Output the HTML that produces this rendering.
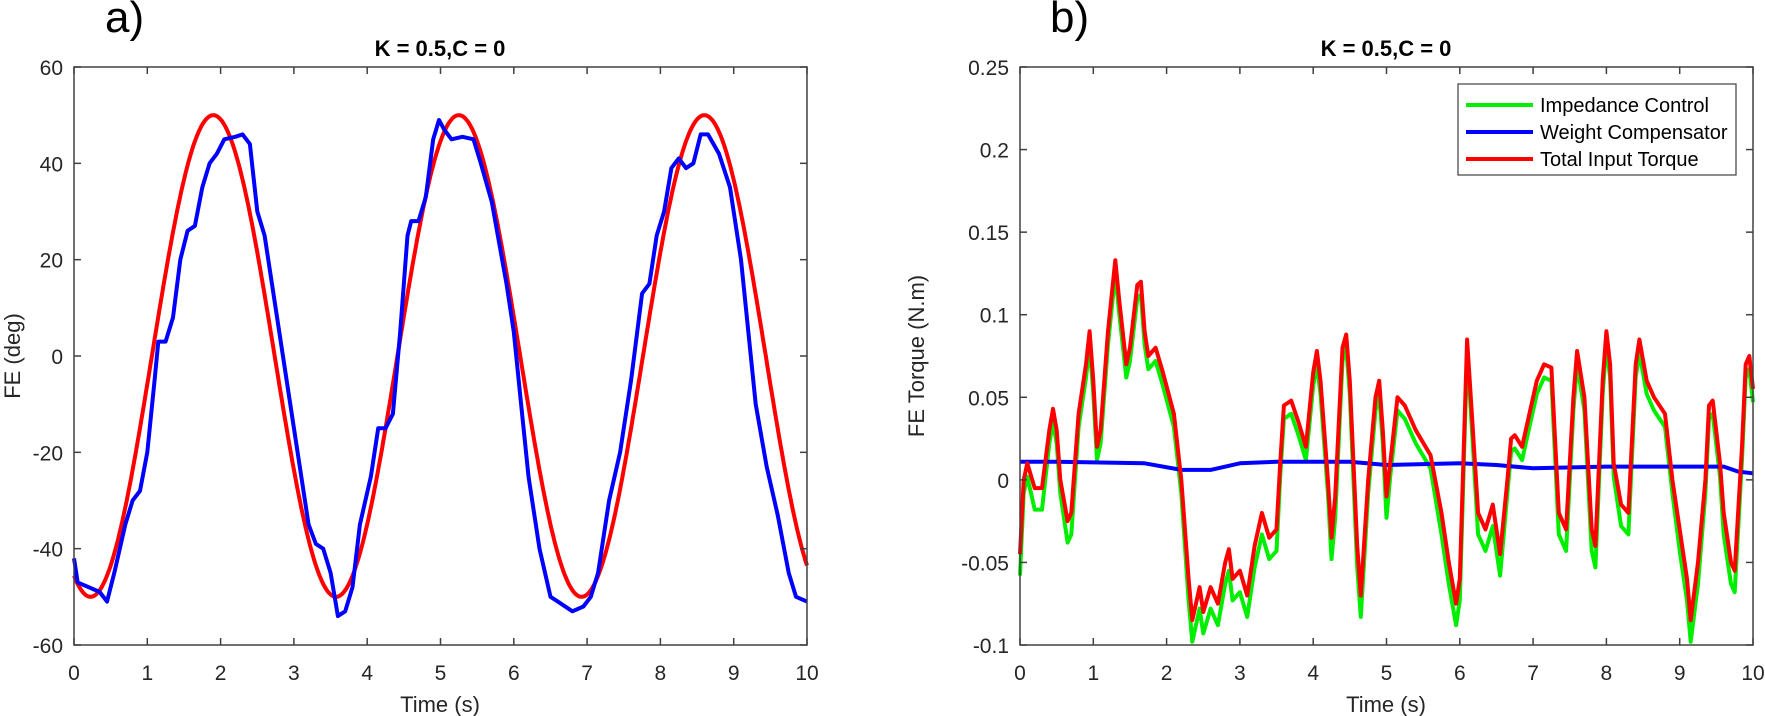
<!DOCTYPE html>
<html><head><meta charset="utf-8"><style>
body{margin:0;background:#fff;}
svg{display:block;font-family:"Liberation Sans",Arial,sans-serif;}
</style></head><body>
<svg id="s" width="1765" height="716" viewBox="0 0 1765 716" xmlns="http://www.w3.org/2000/svg">
<rect width="1765" height="716" fill="#fff"/>
<text x="105" y="32" font-size="44" fill="#000">a)</text>
<text x="1050" y="32" font-size="44" fill="#000">b)</text>
<text x="440" y="56" font-size="22" font-weight="bold" text-anchor="middle" fill="#000">K = 0.5,C = 0</text>
<text x="1386" y="56" font-size="22" font-weight="bold" text-anchor="middle" fill="#000">K = 0.5,C = 0</text>
<g id="g"></g>
<text x="440" y="712" font-size="22" text-anchor="middle" fill="#262626">Time (s)</text>
<text x="1386" y="712" font-size="22" text-anchor="middle" fill="#262626">Time (s)</text>
<text transform="translate(20,356) rotate(-90)" font-size="22" text-anchor="middle" fill="#262626">FE (deg)</text>
<text transform="translate(924,356) rotate(-90)" font-size="22" text-anchor="middle" fill="#262626">FE Torque (N.m)</text>
</svg>
<script>
var g=document.getElementById('g'),h='';
function ax(x0,x1,y0,y1,ymin,ymax,ystep,fmt){
 var fx=function(t){return x0+(x1-x0)*t/10;},fy=function(v){return y1-(y1-y0)*(v-ymin)/(ymax-ymin);};
 return {fx:fx,fy:fy,draw:function(){
  var s='<rect x="'+x0+'" y="'+y0+'" width="'+(x1-x0)+'" height="'+(y1-y0)+'" fill="none" stroke="#404040" stroke-width="1.5"/>';
  for(var i=0;i<=10;i++){var x=fx(i);s+='<line x1="'+x+'" y1="'+y1+'" x2="'+x+'" y2="'+(y1-7)+'" stroke="#404040" stroke-width="1.5"/><line x1="'+x+'" y1="'+y0+'" x2="'+x+'" y2="'+(y0+7)+'" stroke="#404040" stroke-width="1.5"/>';
   s+='<text x="'+x+'" y="'+(y1+35)+'" font-size="21" text-anchor="middle" fill="#262626">'+i+'</text>';}
  var n=Math.round((ymax-ymin)/ystep);
  for(var j=0;j<=n;j++){var v=ymin+j*ystep,y=fy(v);s+='<line x1="'+x0+'" y1="'+y+'" x2="'+(x0+7)+'" y2="'+y+'" stroke="#404040" stroke-width="1.5"/><line x1="'+x1+'" y1="'+y+'" x2="'+(x1-7)+'" y2="'+y+'" stroke="#404040" stroke-width="1.5"/>';
   s+='<text x="'+(x0-11)+'" y="'+(y+8)+'" font-size="21" text-anchor="end" fill="#262626">'+fmt(v)+'</text>';}
  return s;}};
}
function path(a,pts,c,w){return '<polyline fill="none" stroke="'+c+'" stroke-width="'+(w||4)+'" stroke-linejoin="round" points="'+pts.map(function(p){return a.fx(p[0]).toFixed(1)+','+a.fy(p[1]).toFixed(1)}).join(' ')+'"/>';}
var A=ax(74,807,67,645,-60,60,20,function(v){return Math.round(v)+''});
var red=[];for(var t=0;t<=10.001;t+=0.02)red.push([t,50*Math.cos(2*Math.PI*(t-1.9)/3.35)]);
var blue=[[0,-42],[0.05,-47],[0.2,-48],[0.35,-49],[0.45,-51],[0.55,-45],[0.7,-35],[0.8,-30],[0.9,-28],[1.0,-20],[1.1,-5],[1.15,3],[1.25,3],[1.35,8],[1.45,20],[1.55,26],[1.65,27],[1.75,35],[1.85,40],[1.95,42],[2.05,45],[2.2,45.5],[2.3,46],[2.4,44],[2.5,30],[2.6,25],[2.75,10],[2.9,-5],[3.05,-20],[3.2,-35],[3.3,-39],[3.4,-40],[3.5,-45],[3.6,-54],[3.7,-53],[3.8,-48],[3.9,-35],[4.05,-25],[4.15,-15],[4.25,-15],[4.35,-12],[4.45,5],[4.55,25],[4.6,28],[4.7,28],[4.8,33],[4.9,45],[4.98,49],[5.05,47],[5.15,45],[5.3,45.5],[5.45,45],[5.55,40],[5.7,32],[5.9,15],[6.0,5],[6.1,-10],[6.2,-25],[6.35,-40],[6.5,-50],[6.6,-51],[6.8,-53],[6.95,-52],[7.05,-50],[7.15,-45],[7.3,-30],[7.45,-20],[7.6,-5],[7.75,13],[7.85,15],[7.95,25],[8.05,30],[8.15,39],[8.25,41],[8.35,39],[8.45,40],[8.55,46],[8.65,46],[8.8,42],[8.95,35],[9.1,20],[9.3,-10],[9.45,-23],[9.6,-33],[9.75,-45],[9.85,-50],[10,-51]];
h+=path(A,red,'#ff0000')+path(A,blue,'#0000ff')+A.draw();
var B=ax(1020,1753,67,645,-0.1,0.25,0.05,function(v){var r=Math.round(v*100)/100;return r==0?'0':(r+'');});
var R=[[0,-0.045],[0.05,0.0],[0.1,0.01],[0.2,-0.005],[0.3,-0.005],[0.4,0.03],[0.45,0.043],[0.5,0.03],[0.55,0.0],[0.65,-0.025],[0.7,-0.02],[0.8,0.04],[0.9,0.07],[0.95,0.09],[1.0,0.06],[1.05,0.02],[1.1,0.03],[1.2,0.09],[1.3,0.133],[1.35,0.11],[1.45,0.07],[1.5,0.08],[1.6,0.118],[1.65,0.12],[1.7,0.09],[1.75,0.075],[1.85,0.08],[1.95,0.065],[2.1,0.04],[2.2,0.0],[2.3,-0.06],[2.35,-0.085],[2.45,-0.065],[2.5,-0.08],[2.6,-0.065],[2.7,-0.075],[2.8,-0.05],[2.85,-0.042],[2.9,-0.06],[3.0,-0.055],[3.1,-0.07],[3.2,-0.04],[3.3,-0.02],[3.4,-0.035],[3.5,-0.03],[3.55,0.01],[3.6,0.045],[3.7,0.048],[3.8,0.035],[3.9,0.02],[4.0,0.065],[4.05,0.078],[4.1,0.06],[4.2,0.0],[4.25,-0.035],[4.3,-0.01],[4.4,0.08],[4.45,0.088],[4.5,0.06],[4.6,-0.04],[4.65,-0.07],[4.75,0.0],[4.85,0.05],[4.9,0.06],[4.95,0.03],[5.0,-0.01],[5.05,0.01],[5.15,0.05],[5.25,0.045],[5.4,0.03],[5.6,0.015],[5.75,-0.02],[5.85,-0.05],[5.95,-0.075],[6.0,-0.06],[6.1,0.085],[6.15,0.05],[6.25,-0.02],[6.35,-0.03],[6.45,-0.015],[6.55,-0.045],[6.65,0.0],[6.7,0.025],[6.75,0.027],[6.85,0.02],[6.95,0.04],[7.05,0.06],[7.15,0.07],[7.25,0.068],[7.35,-0.02],[7.45,-0.03],[7.55,0.05],[7.6,0.078],[7.7,0.05],[7.8,-0.03],[7.85,-0.04],[7.95,0.06],[8.0,0.09],[8.05,0.07],[8.1,0.01],[8.2,-0.015],[8.3,-0.02],[8.4,0.07],[8.45,0.085],[8.55,0.06],[8.65,0.05],[8.8,0.04],[8.9,0.0],[9.0,-0.03],[9.1,-0.06],[9.15,-0.085],[9.25,-0.05],[9.35,0.0],[9.4,0.045],[9.45,0.048],[9.55,0.01],[9.6,-0.02],[9.7,-0.05],[9.75,-0.055],[9.85,0.02],[9.9,0.07],[9.95,0.075],[10,0.055]];
var BL=[[0,0.011],[0.5,0.011],[1.7,0.01],[2.2,0.006],[2.6,0.006],[3.0,0.01],[3.5,0.011],[4.5,0.011],[5,0.009],[6,0.01],[6.5,0.009],[7,0.007],[8,0.008],[9,0.008],[9.6,0.008],[9.8,0.005],[10,0.004]];
var G=R.map(function(p){return [p[0],p[1]-0.008-(p[1]<0?0.005:0)]});
h+=path(B,G,'#00ee00')+path(B,BL,'#0000ff')+path(B,R,'#ff0000')+B.draw();
h+='<rect x="1458" y="84" width="278" height="91" fill="#fff" stroke="#404040" stroke-width="1.2"/>';
var L=[['#00ee00','Impedance Control',105],['#0000ff','Weight Compensator',132],['#ff0000','Total Input Torque',159]];
L.forEach(function(l){h+='<line x1="1466" y1="'+l[2]+'" x2="1533" y2="'+l[2]+'" stroke="'+l[0]+'" stroke-width="4"/><text x="1540" y="'+(l[2]+7)+'" font-size="20" fill="#000">'+l[1]+'</text>';});
g.innerHTML=h;
</script>
</body></html>
